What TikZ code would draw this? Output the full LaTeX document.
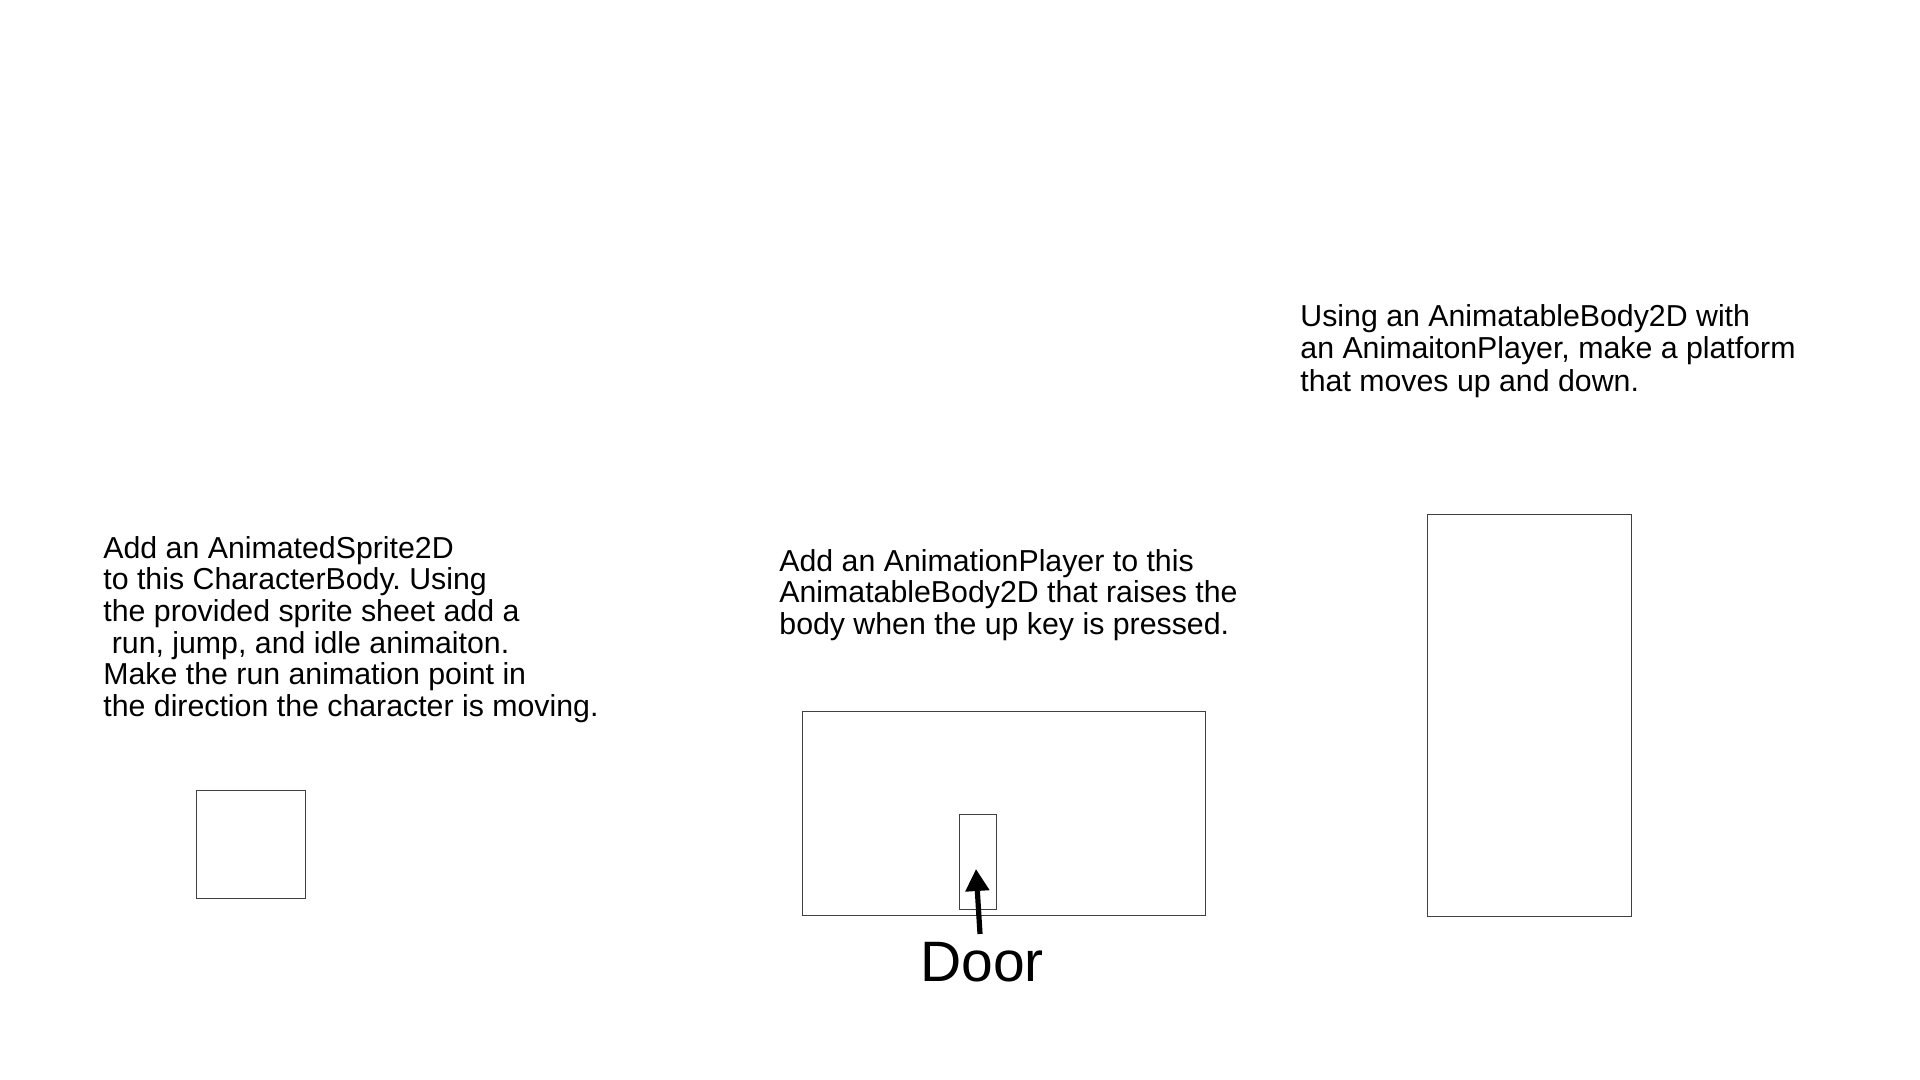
\documentclass[tikz,border=0pt]{standalone}
\usepackage{fontspec}
\setmainfont{Liberation Sans}
\usetikzlibrary{arrows.meta}
\frenchspacing

\begin{document}
\begin{tikzpicture}[x=0.5pt,y=-0.5pt,
  note/.style={anchor=north west,inner sep=0pt,align=left,font=\fontsize{15.15}{15.8}\selectfont},
  box/.style={draw=black!75,line width=0.5pt,inner sep=0pt},
  pointer/.style={-{Triangle[width=11.5pt,length=11pt]},line width=2.6pt}]
  \useasboundingbox (0,0) rectangle (1920,1080);
  % the character
  \node[note] (spritenote) at (103,536) {Add an AnimatedSprite2D\\to this CharacterBody. Using\\the provided sprite sheet add a\\\ run, jump, and idle animaiton.\\Make the run animation point in\\the direction the character is moving.};
  \node[box,minimum width=54.5pt,minimum height=54pt] (sprite) at (250.5,844) {};
  % the body with its door
  \node[note] (bodynote) at (779,549) {Add an AnimationPlayer to this\\AnimatableBody2D that raises the\\body when the up key is pressed.};
  \node[box,minimum width=201.5pt,minimum height=102pt] (body) at (1003.5,813) {};
  \node[box,minimum width=18.5pt,minimum height=47.5pt] (door) at (977.5,861.5) {};
  \node[inner sep=0pt,font=\fontsize{28.5}{34}\selectfont] (doorlabel) at (982,962) {Door};
  \coordinate (doortail) at (980,934);
  \coordinate (doortip) at (976,869);
  \draw[pointer] (doortail) -- (doortip);
  % the platform
  \node[note,font=\fontsize{15.15}{16.3}\selectfont] (platformnote) at (1300,304) {Using an AnimatableBody2D with\\an AnimaitonPlayer, make a platform\\that moves up and down.};
  \node[box,minimum width=102pt,minimum height=201pt] (platform) at (1529,715) {};
\end{tikzpicture}
\end{document}
